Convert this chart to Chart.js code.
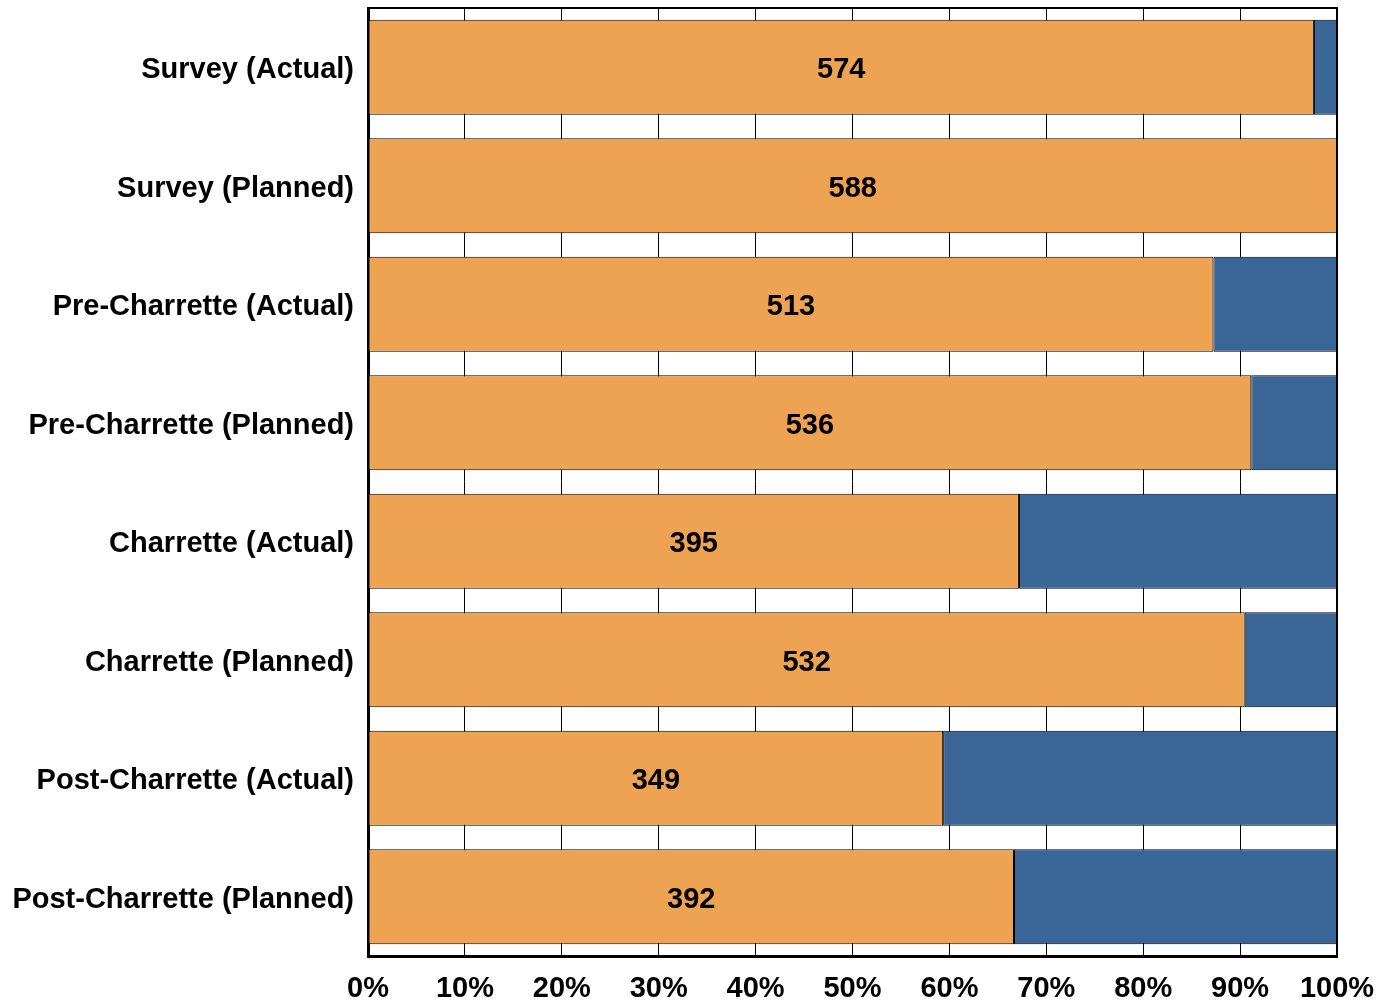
<!DOCTYPE html>
<html>
<head>
<meta charset="utf-8">
<script src="https://cdn.jsdelivr.net/npm/chart.js@4/dist/chart.umd.min.js"></script>
<style>
  html, body { margin: 0; padding: 0; background: #fff; }
  #wrap { width: 1392px; height: 1005px; }
</style>
</head>
<body>
<div id="wrap"><canvas id="chart"></canvas></div>
<script>
const categories = [
  'Survey (Actual)', 'Survey (Planned)', 'Pre-Charrette (Actual)', 'Pre-Charrette (Planned)',
  'Charrette (Actual)', 'Charrette (Planned)', 'Post-Charrette (Actual)', 'Post-Charrette (Planned)'
];
const participants = [574, 588, 513, 536, 395, 532, 349, 392];
const remaining = [14, 0, 75, 52, 193, 56, 239, 196];
const xTicks = [0, 10, 20, 30, 40, 50, 60, 70, 80, 90, 100];

const totals = participants.map((v, i) => v + remaining[i]);
const pctOrange = participants.map((v, i) => v / totals[i] * 100);
const pctBlue = remaining.map((v, i) => v / totals[i] * 100);

const FONT = "'Liberation Sans', Arial, sans-serif";
const FSIZE = 29;

// draws the counts in the middle of the orange bars + top/right frame
const labelsPlugin = {
  id: 'labels',
  afterDatasetsDraw(chart) {
    const ctx = chart.ctx;
    const meta = chart.getDatasetMeta(0);
    ctx.save();
    ctx.font = 'bold ' + FSIZE + 'px ' + FONT;
    ctx.fillStyle = '#000';
    ctx.textAlign = 'center';
    ctx.textBaseline = 'middle';
    meta.data.forEach((el, i) => {
      ctx.fillText(participants[i], (el.x + el.base) / 2, el.y + 3);
    });
    const a = chart.chartArea;
    ctx.strokeStyle = '#000';
    ctx.lineWidth = 2;
    ctx.beginPath();
    ctx.moveTo(a.left, a.top);
    ctx.lineTo(a.right, a.top);
    ctx.lineTo(a.right, a.bottom);
    ctx.stroke();
    ctx.restore();
  }
};

function noPad(scale) {
  scale.paddingTop = 0;
  scale.paddingBottom = 0;
  scale.paddingLeft = 0;
  scale.paddingRight = 0;
}

new Chart(document.getElementById('chart'), {
  type: 'bar',
  data: {
    labels: categories,
    datasets: [
      {
        data: pctOrange,
        backgroundColor: '#EEA352',
        borderColor: '#000',
        borderWidth: 1,
        borderSkipped: false,
        barPercentage: 0.8,
        categoryPercentage: 1
      },
      {
        data: pctBlue,
        backgroundColor: '#396597',
        borderColor: '#000',
        borderWidth: 1,
        borderSkipped: false,
        barPercentage: 0.8,
        categoryPercentage: 1
      }
    ]
  },
  options: {
    indexAxis: 'y',
    responsive: true,
    maintainAspectRatio: false,
    animation: false,
    layout: { padding: { top: 8, right: 55, left: 0, bottom: 0 } },
    plugins: { legend: { display: false }, tooltip: { enabled: false } },
    scales: {
      x: {
        stacked: true,
        min: 0,
        max: 100,
        afterBuildTicks: (scale) => { scale.ticks = xTicks.map(v => ({ value: v })); },
        afterFit: (scale) => { scale.height = 49; noPad(scale); },
        grid: { color: '#000', lineWidth: 1, drawTicks: false },
        border: { color: '#000', width: 3 },
        ticks: {
          padding: 16,
          color: '#000',
          font: { family: FONT, size: FSIZE, weight: 'bold' },
          maxRotation: 0,
          callback: (v) => v + '%'
        }
      },
      y: {
        stacked: true,
        afterFit: (scale) => { scale.width = 368; noPad(scale); },
        grid: { display: false, drawTicks: false },
        border: { color: '#000', width: 3 },
        ticks: {
          padding: 14,
          labelOffset: 3,
          color: '#000',
          font: { family: FONT, size: FSIZE, weight: 'bold' }
        }
      }
    }
  },
  plugins: [labelsPlugin]
});
</script>
</body>
</html>
